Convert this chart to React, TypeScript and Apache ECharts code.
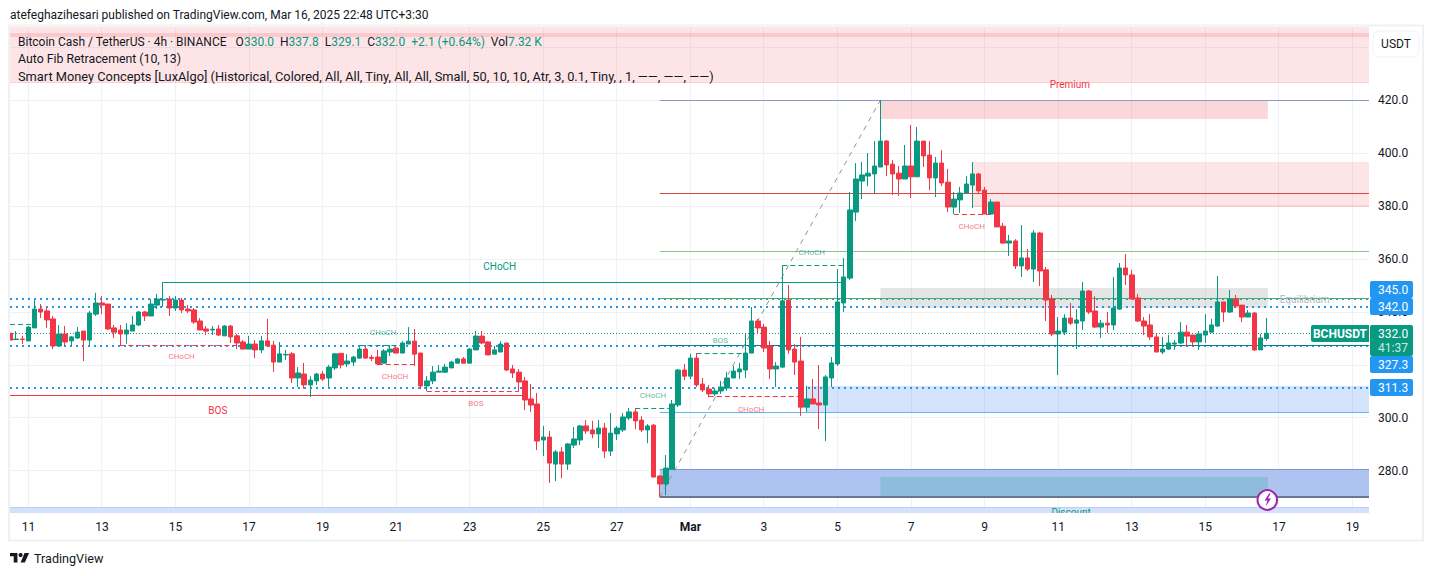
import React, { useEffect, useRef } from "react";
import * as echarts from "echarts";

// ---------- values ----------
// each row: open, close, low, high
const ohlc: number[][] = [
[332.0,329.4,329.4,332.0],[329.6,329.8,329.4,332.8],[329.8,329.6,327.9,331.0],[329.1,334.3,329.1,334.7],[334.0,341.1,334.0,344.5],
[341.1,340.0,337.7,343.0],[340.4,337.0,334.0,341.9],[337.4,327.2,326.0,338.5],[327.2,331.7,327.2,335.1],[331.7,328.7,327.2,334.7],
[329.1,330.6,327.2,331.0],[330.2,332.4,329.8,334.3],[332.8,329.4,321.5,332.8],[329.4,339.6,327.5,340.4],[339.2,343.4,338.5,347.2],
[343.4,342.6,339.2,346.0],[343.0,333.6,333.2,343.0],[334.0,332.4,330.2,335.1],[333.2,331.7,327.2,335.1],[331.7,333.2,328.0,335.8],
[332.8,335.1,332.8,338.5],[335.1,340.0,334.7,340.4],[340.0,338.5,336.6,340.4],[338.5,343.0,338.5,344.9],[342.6,344.9,341.1,346.8],
[344.5,344.7,341.9,351.3],[344.9,341.5,338.5,346.0],[341.5,344.5,340.4,346.0],[344.5,340.8,339.6,345.3],[341.1,340.4,339.6,342.6],
[340.8,336.2,335.5,341.5],[336.6,333.2,333.2,337.7],[333.6,332.8,331.3,334.7],[333.2,333.5,331.3,334.7],[333.6,331.3,331.0,335.1],
[331.0,334.7,331.0,335.1],[334.7,330.6,328.3,335.1],[331.0,328.3,326.0,331.7],[328.7,326.0,326.0,329.4],[326.0,327.9,326.0,331.0],
[327.9,325.7,322.6,329.4],[325.7,329.1,324.5,331.0],[329.1,327.2,326.8,337.4],[327.5,321.1,317.4,329.1],[321.1,324.2,321.1,328.7],
[323.8,324.0,321.9,325.7],[324.2,315.1,313.2,324.9],[315.1,317.0,311.7,319.2],[316.6,312.5,311.0,320.8],[312.5,314.3,307.9,315.8],
[314.0,316.6,312.5,317.0],[316.6,314.7,314.0,317.7],[315.1,319.2,311.7,320.0],[318.9,324.2,318.1,324.5],[324.4,320.0,318.7,324.4],
[320.4,321.5,319.2,324.1],[321.1,323.0,319.6,323.4],[322.6,326.0,322.3,326.8],[326.0,322.6,322.3,326.8],[322.9,322.5,321.5,323.8],
[323.0,320.4,320.0,325.7],[320.7,325.3,320.7,326.0],[324.9,326.0,323.4,327.5],[326.4,324.5,324.5,326.9],[324.5,328.3,324.5,329.0],
[327.9,329.0,327.9,334.3],[329.0,324.1,319.6,333.6],[324.5,312.1,310.9,324.5],[312.1,314.0,310.2,315.8],[314.0,317.3,312.8,319.6],
[317.3,317.7,317.3,320.0],[317.3,319.2,317.0,320.4],[318.9,321.1,318.9,321.5],[320.7,322.3,320.7,322.6],[322.3,320.7,320.7,323.0],
[320.7,326.0,320.7,326.4],[325.7,330.9,325.7,332.8],[330.9,328.3,327.9,332.8],[328.7,323.8,323.8,329.0],[324.1,325.7,324.1,327.2],
[324.9,327.9,324.9,329.0],[328.3,318.1,317.7,328.3],[318.5,317.0,315.1,320.0],[317.3,313.6,310.2,318.5],[314.0,306.8,303.0,315.5],
[307.2,304.9,302.3,312.8],[305.3,291.3,287.9,309.4],[291.7,292.8,285.6,297.0],[292.8,283.0,275.5,295.1],[282.6,287.2,276.2,287.9],
[287.2,282.6,277.3,289.0],[282.6,290.2,280.4,290.5],[289.8,292.1,288.7,296.6],[291.7,297.0,289.8,297.3],[297.0,295.1,294.0,299.2],
[295.5,294.0,292.4,298.9],[294.0,296.2,288.7,299.2],[296.2,287.5,284.9,298.1],[287.5,294.3,285.6,301.9],[294.0,296.2,291.7,297.0],
[295.5,300.4,294.7,301.9],[300.0,302.3,299.2,303.8],[302.3,298.9,295.8,303.8],[299.2,295.5,294.7,300.7],[295.5,297.0,290.5,297.7],
[297.3,277.7,277.7,297.7],[278.1,275.1,270.2,278.4],[275.1,281.1,270.9,286.0],[280.7,305.3,280.7,306.8],[304.9,318.1,304.1,318.5],
[318.1,315.8,314.3,320.4],[315.8,322.6,314.7,324.2],[322.6,312.5,311.7,324.5],[312.8,310.6,309.8,315.1],[310.9,309.1,307.9,312.5],
[309.1,310.2,308.3,311.3],[310.2,311.7,309.1,314.0],[311.3,315.1,310.2,317.4],[315.1,317.7,315.1,319.6],[317.4,318.5,314.7,320.8],
[318.1,324.5,315.1,332.1],[324.5,336.6,324.5,341.9],[336.6,334.0,331.7,337.4],[334.3,326.4,324.9,335.5],[327.2,318.5,314.7,329.1],
[318.5,319.6,311.7,321.1],[319.2,344.2,318.9,357.7],[344.5,325.7,324.2,350.2],[326.0,321.1,316.2,327.9],[321.5,304.1,300.8,330.6],
[304.1,307.2,302.3,312.1],[307.2,305.3,305.3,314.7],[305.7,304.9,295.8,320.0],[304.9,315.5,291.3,316.2],[315.1,320.8,311.7,323.0],
[320.4,343.8,319.6,356.2],[343.4,353.2,340.0,360.4],[352.8,378.5,352.1,385.3],[377.7,390.2,374.3,396.2],[389.4,391.7,382.6,396.6],
[391.3,392.4,387.5,400.0],[392.1,395.1,384.5,404.5],[394.7,404.5,394.7,420.0],[404.5,395.5,391.3,404.9],[395.8,392.1,384.1,397.3],
[392.4,390.2,383.8,395.1],[390.2,395.1,390.2,403.0],[395.1,391.0,383.0,410.6],[391.0,404.5,391.0,409.8],[404.5,398.9,394.7,404.5],
[399.2,390.6,386.0,404.5],[390.6,396.2,383.4,398.5],[396.2,388.7,387.5,401.1],[389.0,379.6,377.7,394.0],[379.6,382.6,377.0,385.3],
[382.3,384.9,377.4,387.2],[384.9,388.3,384.9,391.3],[387.9,392.1,379.2,396.6],[392.1,385.7,384.9,392.4],[386.0,377.0,377.0,387.2],
[377.0,381.5,376.6,382.6],[381.5,372.1,372.1,381.5],[372.4,366.0,365.7,373.6],[366.0,366.8,361.1,369.1],[366.8,357.4,356.2,367.5],
[357.4,360.4,353.2,372.8],[360.4,356.2,355.5,363.8],[356.2,369.8,351.3,370.9],[369.8,355.5,349.8,370.2],[355.9,344.5,336.6,357.0],
[344.9,331.7,330.9,346.4],[331.7,332.8,316.2,338.1],[332.4,337.7,331.3,339.2],[337.7,335.8,335.1,343.4],[335.8,337.0,326.0,341.1],
[336.6,347.9,333.2,351.3],[347.9,340.0,339.2,348.3],[340.4,334.3,334.0,346.0],[334.3,335.8,330.2,337.0],[335.8,335.1,332.1,340.0],
[335.1,341.5,333.2,353.2],[341.1,356.6,340.8,358.5],[356.6,354.0,350.2,361.9],[354.0,344.9,344.9,355.9],[345.3,336.6,336.2,346.8],
[336.6,334.7,331.3,338.1],[335.1,330.6,329.4,339.2],[330.6,324.9,324.9,332.1],[324.9,326.0,324.1,330.6],[326.0,328.3,325.7,331.3],
[327.9,328.3,325.7,329.4],[328.3,332.4,327.9,336.2],[332.4,330.9,326.8,335.1],[331.3,328.7,327.5,331.3],[328.7,331.7,325.7,332.8],
[331.3,332.8,328.3,339.2],[332.4,335.1,332.4,337.4],[334.7,343.8,334.3,353.6],[343.8,340.0,336.2,343.8],[340.0,344.9,339.6,348.3],
[344.9,342.3,341.5,346.4],[342.6,338.1,336.2,342.6],[338.1,339.6,338.1,340.8],[339.6,325.7,325.3,340.0],[325.7,330.2,325.7,331.7],
[330.0,332.0,329.1,337.8],
];

const dayTickIndex = [3,15,27,39,51,63,75,87,99,111,123,135,147,159,171,183,195,207,219];
const dayTickLabels = ["11","13","15","17","19","21","23","25","27","Mar","3","5","7","9","11","13","15","17","19"];
const priceTicks = [280,300,320,340,360,380,400,420];
const priceGrid = [280,300,320,340,360,380,400,420,440];

// zones: first bar, last bar, upper price, lower price
const zoneTopBand = [[0,222,447.6,426.4]];
const zoneTopInner = [[0,222,445.2,443.7]];
const zoneTopEdge = [[0,222,426.8,426.4]];
const zonePremium = [[142,205.2,420,412.8]];
const zoneSupplyUpper = [[157,222,396.6,379.5]];
const zoneSupplyEdge = [[157,222,380.3,379.5]];
const zoneEquilibrium = [[142,205.2,349.1,341.5]];
const zoneBlue = [[130,222,311.9,302.1]];
const zoneDeepBlue = [[106,222,280.7,270.2]];
const zoneDeepInner = [[142,205.2,277.7,270.2]];
const zoneDiscount = [[0,222,266.3,264.1]];

// levels: first bar, price, last bar, price
const fibGrey = [[106,420,222,420]];
const fibRed = [[106,384.6,222,384.6]];
const fibGreenSoft = [[106,362.7,222,362.7]];
const fibGreen = [[106,345,222,345]];
const fibTeal = [[106,327.3,222,327.3]];
const fibBlue = [[106,302.1,222,302.1]];
const fibBase = [[106,270.1,222,270.1]];
const deepBlueTop = [[106,280.7,222,280.7]];
const discountTop = [[0,266.3,222,266.3]];
const fibDiagonal = [[106,270.1,142,420]];
const levelDots = [[0,345,222,345],[0,342,222,342],[0,327.3,222,327.3],[0,311.3,222,311.3]];
const lastPriceDots = [[0,332,212.2,332]];
const structureTeal = [[25,351.3,136,351.3]];
const structureRed = [[0,308.6,84,308.6]];
const dashesTeal = [[0,335.4,4,335.4],[57,327.4,64,327.4],[102,303.7,108,303.7],[112,324.4,120,324.4],[126,357.7,136,357.7]];
const dashesRed = [[18,327.5,37,327.5],[60,320.3,66,320.3],[68,309.9,83,309.9],[114,308.2,129,308.2],[154,376.9,160,376.9]];

// labels: bar, price, text
const tinyTeal: [number,number,string][] = [[60.9,332.1,"CHoCH"],[104.9,308.4,"CHoCH"],[115.9,329.2,"BOS"],[130.8,362.3,"CHoCH"]];
const tinyRed: [number,number,string][] = [[28,323.1,"CHoCH"],[62.8,315.7,"CHoCH"],[76,305.4,"BOS"],[120.9,303.3,"CHoCH"],[156.9,372.2,"CHoCH"]];
const bigTeal: [number,number,string][] = [[79.9,357,"CHoCH"],[173.1,264.2,"Discount"]];
const bigRed: [number,number,string][] = [[33.9,303,"BOS"],[172.9,425.7,"Premium"]];
const bigGrey: [number,number,string][] = [[211.2,344.9,"Equilibrium"]];

const titleText = "atefeghazihesari published on TradingView.com, Mar 16, 2025 22:48 UTC+3:30";
const legendFib = "Auto Fib Retracement (10, 13)";
const legendSmc = "Smart Money Concepts [LuxAlgo] (Historical, Colored, All, All, Tiny, All, All, Small, 50, 10, 10, Atr, 3, 0.1, Tiny, , 1, \u2014\u2014, \u2014\u2014, \u2014\u2014)";
const levelBadges = ["345.0","342.0","327.3","311.3"];
const lastPrice = "332.0";
const countdown = "41:37";
const symbol = "BCHUSDT";
const currency = "USDT";

const UP = "#089981";
const DOWN = "#f23645";
const FONT = "Roboto, sans-serif";

echarts.graphic.registerShape(
  "tvlogo",
  echarts.graphic.extendPath("M14 6H0v6h7v12h7V6Zm14 18h-8l7.5-18H36l-8 18ZM24 10a4 4 0 1 1-8 0 4 4 0 1 1 8 0Z", {}) as any
);

const layer = (name: string, rows: any[], draw: (r: any, api: any) => any, z: number) => ({
  type: "custom",
  name,
  coordinateSystem: "cartesian2d",
  z,
  clip: true,
  silent: true,
  data: rows,
  renderItem: (p: any, api: any) => draw(rows[p.dataIndex], api),
});

const zones = (name: string, rows: number[][], fill: string, z = 2) =>
  layer(name, rows, (r, api) => {
    const a = api.coord([r[0], r[2]]);
    const b = api.coord([r[1], r[3]]);
    const y0 = Math.round(a[1]);
    const y1 = Math.round(b[1]);
    return { type: "rect", shape: { x: a[0], y: y0, width: b[0] - a[0], height: Math.max(1, y1 - y0) }, style: { fill } };
  }, z);

const snap = (v: number, width: number) => (width % 2 ? Math.floor(v) + 0.5 : Math.round(v));

const lines = (name: string, rows: number[][], stroke: string, width = 1, dash?: number[], z = 3) =>
  layer(name, rows, (r, api) => {
    const a = api.coord([r[0], r[1]]);
    const b = api.coord([r[2], r[3]]);
    const flatY = r[1] === r[3];
    const flatX = r[0] === r[2];
    const y1 = flatY ? snap(a[1], width) : a[1];
    const y2 = flatY ? y1 : b[1];
    const x1 = flatX ? snap(a[0], width) : a[0];
    const x2 = flatX ? x1 : b[0];
    return {
      type: "line",
      shape: { x1, y1, x2, y2 },
      style: { stroke, lineWidth: width, lineDash: dash, fill: null },
    };
  }, z);

const labels = (name: string, rows: [number,number,string][], fill: string, size: number, z = 4, opacity = 1) =>
  layer(name, rows, (r, api) => {
    const a = api.coord([r[0], r[1]]);
    return {
      type: "text",
      style: { text: r[2], x: a[0], y: a[1], fill, opacity, font: `${size}px ${FONT}`, align: "center", verticalAlign: "middle" },
    };
  }, z);

const gridH = priceGrid.map((p) => [0, p, 222, p]);
const gridV = dayTickIndex.map((i) => [i, 264, i, 448]);

const txt = (text: string, x: number, y: number, fill: string, font: string, align = "left", z = 101) => ({
  type: "text",
  z,
  silent: true,
  style: { text, x, y, fill, font, align, textAlign: align, verticalAlign: "middle", textVerticalAlign: "middle" },
});
const box = (x: number, y: number, width: number, height: number, fill: string, r: any = 0, z = 100) => ({
  type: "rect",
  z,
  silent: true,
  shape: { x, y, width, height, r },
  style: { fill },
});

export default function App() {
  const ref = useRef<HTMLDivElement>(null);
  useEffect(() => {
    document.body.style.margin = "0";
    document.body.style.background = "#fff";
    const chart = echarts.init(ref.current!, undefined, { renderer: "svg" });
    const f12 = `12px ${FONT}`;
    const legend1 = {
      type: "text",
      z: 101,
      silent: true,
      style: {
        x: 18,
        y: 42,
        verticalAlign: "middle",
        textVerticalAlign: "middle",
        text:
          "{d|Bitcoin Cash / TetherUS \u00b7 4h \u00b7 BINANCE   O}{g|330.0}{d|  H}{g|337.8}{d|  L}{g|329.1}{d|  C}{g|332.0}{g|  +2.1 (+0.64%)}{d|  Vol}{g|7.32 K}",
        rich: {
          d: { fill: "#131722", font: f12 },
          g: { fill: UP, font: f12 },
        },
      },
    };
    chart.setOption({
      animation: false,
      backgroundColor: "#ffffff",
      grid: { left: 10, top: 27, width: 1359, height: 486, containLabel: false },
      xAxis: {
        type: "value",
        min: 0,
        max: 221.7,
        axisLine: { show: false },
        axisTick: { show: false },
        splitLine: { show: false },
        axisLabel: {
          customValues: dayTickIndex,
          margin: 8,
          color: "#131722",
          fontFamily: FONT,
          fontSize: 12,
          formatter: (v: number) => {
            const s = dayTickLabels[dayTickIndex.indexOf(v)] ?? "";
            return s === "Mar" ? `{b|${s}}` : s;
          },
          rich: { b: { fontWeight: "bold", fontFamily: FONT, fontSize: 12, color: "#131722" } },
        },
      },
      yAxis: {
        type: "value",
        position: "right",
        min: 264.15,
        max: 447.55,
        axisLine: { show: false },
        axisTick: { show: false },
        splitLine: { show: false },
        axisLabel: {
          customValues: priceTicks,
          margin: 9,
          color: "#131722",
          fontFamily: FONT,
          fontSize: 12,
          padding: [0, 0, 2, 0],
          formatter: (v: number) => v.toFixed(1),
        },
      },
      series: [
        lines("grid-h", gridH, "#f0f1f4", 1, undefined, 1),
        lines("grid-v", gridV, "#f0f1f4", 1, undefined, 1),
        zones("top-band", zoneTopBand, "rgba(242,54,69,0.13)"),
        zones("top-inner", zoneTopInner, "rgba(242,54,69,0.16)"),
        zones("top-edge", zoneTopEdge, "rgba(242,54,69,0.12)"),
        zones("premium", zonePremium, "rgba(242,54,69,0.2)"),
        zones("supply", zoneSupplyUpper, "rgba(242,54,69,0.13)"),
        zones("supply-edge", zoneSupplyEdge, "rgba(242,54,69,0.1)"),
        zones("equilibrium", zoneEquilibrium, "rgba(120,123,134,0.2)"),
        zones("blue", zoneBlue, "rgba(41,118,245,0.2)"),
        zones("deep-blue", zoneDeepBlue, "#afc3f1"),
        zones("deep-inner", zoneDeepInner, "#8dbcdc"),
        zones("discount", zoneDiscount, "#d3e1fc"),
        lines("levels", levelDots, "#2196f3", 2, [2, 4]),
        lines("deep-blue-top", deepBlueTop, "#7b97dc"),
        lines("discount-top", discountTop, "#b9cff7"),
        lines("fib-1", fibGrey, "#8a9bc8"),
        lines("fib-2", fibRed, "#e2453f"),
        lines("fib-3", fibGreenSoft, "#8bc18b"),
        lines("fib-4", fibGreen, "#4caf50"),
        lines("fib-5", fibTeal, "#0b7f92"),
        lines("fib-6", fibBlue, "#64b5f6"),
        lines("fib-7", fibBase, "#6a7590", 2),
        lines("fib-diagonal", fibDiagonal, "#8f929c", 1, [5, 5]),
        lines("last-price", lastPriceDots, UP, 1, [1, 2]),
        lines("structure-teal", structureTeal, UP),
        lines("structure-red", structureRed, DOWN),
        lines("dash-teal", dashesTeal, UP, 1, [5, 3]),
        lines("dash-red", dashesRed, DOWN, 1, [5, 3]),
        {
          type: "candlestick",
          name: "BCHUSDT",
          z: 5,
          barWidth: 5,
          clip: true,
          silent: true,
          encode: { x: 0, y: [1, 2, 3, 4] },
          data: ohlc.map((r, i) => [i, ...r]),
          itemStyle: { color: UP, color0: DOWN, borderColor: UP, borderColor0: DOWN, borderWidth: 1 },
        },
        labels("tiny-teal", tinyTeal, UP, 8, 6, 0.7),
        labels("tiny-red", tinyRed, DOWN, 8, 6, 0.7),
        labels("big-teal", bigTeal, UP, 10, 6),
        labels("big-red", bigRed, DOWN, 10, 6, 1),
        labels("big-grey", bigGrey, "#b2b5be", 10, 6),
      ],
      graphic: {
        elements: [
          box(0, 26, 10, 490, "#ffffff", 0, 50),
          {
            type: "rect",
            z: 51,
            silent: true,
            shape: { x: 9, y: 25.5, width: 1414, height: 515 },
            style: { fill: "none", stroke: "#f0f1f3", lineWidth: 2 },
          },
          txt(titleText, 10, 15, "#131722", f12),
          legend1,
          txt(legendFib, 18, 59, "#131722", `12.3px ${FONT}`),
          txt(legendSmc, 18, 76, "#131722", `12.8px ${FONT}`),
          {
            type: "rect",
            z: 100,
            silent: true,
            shape: { x: 1373, y: 31, width: 46, height: 26, r: 6 },
            style: { fill: "#fff", stroke: "#f0f1f3", lineWidth: 1 },
          },
          txt(currency, 1396, 44, "#131722", f12, "center"),
          box(1370, 281, 43, 17, "#2196f3", 2),
          txt(levelBadges[0], 1378, 289.5, "#fff", f12),
          box(1370, 298, 43, 17, "#2196f3", 2),
          txt(levelBadges[1], 1378, 306.5, "#fff", f12),
          box(1370, 325, 43, 31, UP, 2),
          txt(lastPrice, 1378, 333.5, "#fff", f12),
          txt(countdown, 1378, 348, "rgba(255,255,255,0.8)", f12),
          box(1370, 356, 43, 17, "#2196f3", 2),
          txt(levelBadges[2], 1378, 364.5, "#fff", f12),
          box(1370, 379, 43, 17, "#2196f3", 2),
          txt(levelBadges[3], 1378, 387.5, "#fff", f12),
          box(1311, 325, 58, 17, UP, [2, 0, 0, 2]),
          txt(symbol, 1340, 333.5, "#fff", `bold 12px ${FONT}`, "center"),
          {
            type: "circle",
            z: 100,
            silent: true,
            shape: { cx: 1267.3, cy: 500, r: 9.8 },
            style: { fill: "#fff", stroke: "#9c27b0", lineWidth: 2 },
          },
          {
            type: "polygon",
            z: 101,
            silent: true,
            shape: { points: [[1269.2,493.3],[1264.6,500.6],[1267.4,500.6],[1265.6,506.4],[1271,498.6],[1268,498.6],[1270.6,493.3]] },
            style: { fill: "#9c27b0" },
          },
          {
            type: "tvlogo",
            z: 101,
            silent: true,
            x: 10,
            y: 549.8,
            scaleX: 0.53,
            scaleY: 0.53,
            style: { fill: "#131722" },
          },
          txt("TradingView", 34, 558.5, "#131722", `12.6px ${FONT}`),
        ],
      },
    });
    return () => chart.dispose();
  }, []);
  return <div ref={ref} style={{ width: 1433, height: 576 }} />;
}
